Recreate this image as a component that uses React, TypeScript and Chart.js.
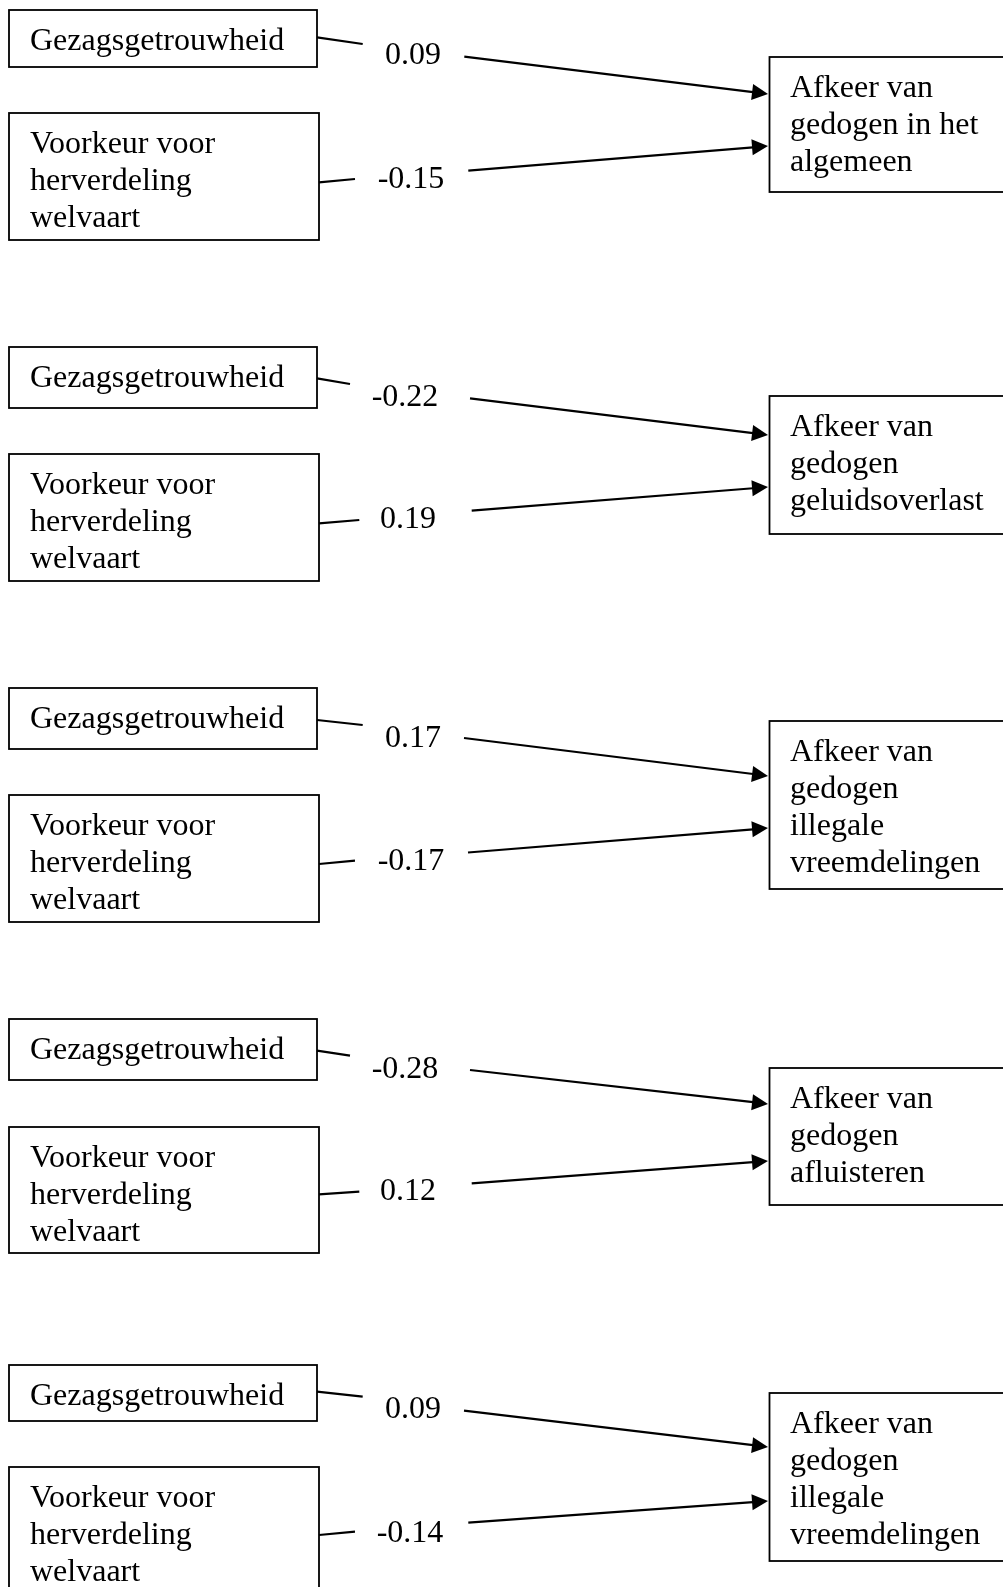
import React, { useEffect, useRef } from "react";
import { Chart, registerables } from "chart.js";

Chart.register(...registerables);

// ---------------- data ----------------
const predictorGezag: string[] = ["Gezagsgetrouwheid"];
const predictorHerverdeling: string[] = ["Voorkeur voor", "herverdeling", "welvaart"];
const outcomeLabels: string[][] = [
  ["Afkeer van", "gedogen in het", "algemeen"],
  ["Afkeer van", "gedogen", "geluidsoverlast"],
  ["Afkeer van", "gedogen", "illegale", "vreemdelingen"],
  ["Afkeer van", "gedogen", "afluisteren"],
  ["Afkeer van", "gedogen", "illegale", "vreemdelingen"],
];
const coefGezag: number[] = [0.09, -0.22, 0.17, -0.28, 0.09];
const coefHerverdeling: number[] = [-0.15, 0.19, -0.17, 0.12, -0.14];

// ---------------- layout (page pixel units) ----------------
const W = 1003;
const H = 1587;
const LEFT_BOX_X0 = 9;
const GEZAG_BOX_X1 = 317;
const HERV_BOX_X1 = 319;
const OUT_BOX_X0 = 769.5;
const OUT_BOX_X1 = 1012;
const ARROW_TIP_X = 768;
const LEFT_TEXT_X = 30;
const OUT_TEXT_X = 790;
const LINE_H = 37;
const FIRST_BASE = 40;

const gezagBoxTop = [10, 347, 688, 1019, 1365];
const gezagBoxBottom = [67, 408, 749, 1080, 1421];
const hervBoxTop = [113, 454, 795, 1127, 1467];
const hervBoxBottom = [240, 581, 922, 1253, 1620];
const outBoxTop = [57, 396, 721, 1068, 1393];
const outBoxBottom = [192, 534, 889, 1205, 1561];

const upShortY0 = [37.3, 378.3, 720, 1050.7, 1391.7];
const upShortX1 = [362.7, 350, 362.7, 350, 362.7];
const upShortY1 = [44, 384, 725, 1055.7, 1396.7];
const upLongX0 = [464.3, 470, 464, 470, 464];
const upLongY0 = [56.7, 398.3, 738, 1070, 1410.7];
const upTipY = [94, 435, 776, 1104, 1447];
const upLabelX = [385, 371.7, 385, 371.7, 385];
const upLabelBase = [64.3, 405.7, 746.7, 1078.3, 1418.3];

const loShortY0 = [182.3, 523.3, 864, 1194.3, 1535];
const loShortX1 = [355, 359.3, 355, 359.3, 355];
const loShortY1 = [179, 520, 860.7, 1191.7, 1531.7];
const loLongX0 = [468.3, 471.7, 468, 471.7, 468.3];
const loLongY0 = [170.7, 510.7, 852.5, 1183.3, 1522.7];
const loTipY = [146, 487, 828, 1161, 1501];
const loLabelX = [377.7, 380, 377.7, 380, 376.7];
const loLabelBase = [188, 528.3, 870, 1200, 1541.7];

const FONT = '32px "Liberation Serif", "Times New Roman", serif';

const pathPlugin = {
  id: "pathDiagram",
  beforeDraw(chart: any) {
    const { ctx } = chart;
    ctx.save();
    ctx.fillStyle = "#ffffff";
    ctx.fillRect(0, 0, chart.width, chart.height);
    ctx.restore();
  },
  afterDraw(chart: any) {
    const { ctx } = chart;
    const xs = chart.scales.x;
    const ys = chart.scales.y;
    const px = (v: number) => xs.getPixelForValue(v);
    const py = (v: number) => ys.getPixelForValue(v);

    const box = (x0: number, y0: number, x1: number, y1: number) => {
      ctx.save();
      ctx.strokeStyle = "#000";
      ctx.lineWidth = 1.8;
      ctx.strokeRect(px(x0), py(y0), px(x1) - px(x0), py(y1) - py(y0));
      ctx.restore();
    };
    const seg = (x0: number, y0: number, x1: number, y1: number) => {
      ctx.save();
      ctx.strokeStyle = "#000";
      ctx.lineWidth = 2.2;
      ctx.beginPath();
      ctx.moveTo(px(x0), py(y0));
      ctx.lineTo(px(x1), py(y1));
      ctx.stroke();
      ctx.restore();
    };
    const arrow = (x0: number, y0: number, x1: number, y1: number) => {
      const ax = px(x0), ay = py(y0), bx = px(x1), by = py(y1);
      const ang = Math.atan2(by - ay, bx - ax);
      const len = 16, half = 8;
      const baseX = bx - len * Math.cos(ang);
      const baseY = by - len * Math.sin(ang);
      ctx.save();
      ctx.strokeStyle = "#000";
      ctx.fillStyle = "#000";
      ctx.lineWidth = 2.2;
      ctx.beginPath();
      ctx.moveTo(ax, ay);
      ctx.lineTo(baseX + 1, baseY);
      ctx.stroke();
      ctx.beginPath();
      ctx.moveTo(bx, by);
      ctx.lineTo(baseX + half * Math.sin(ang), baseY - half * Math.cos(ang));
      ctx.lineTo(baseX - half * Math.sin(ang), baseY + half * Math.cos(ang));
      ctx.closePath();
      ctx.fill();
      ctx.restore();
    };
    const text = (s: string, x: number, y: number) => {
      ctx.save();
      ctx.fillStyle = "#000";
      ctx.font = FONT;
      ctx.textAlign = "left";
      ctx.textBaseline = "alphabetic";
      ctx.fillText(s, px(x), py(y));
      ctx.restore();
    };

    for (let i = 0; i < coefGezag.length; i++) {
      // predictor boxes
      box(LEFT_BOX_X0, gezagBoxTop[i], GEZAG_BOX_X1, gezagBoxBottom[i]);
      predictorGezag.forEach((l, k) => text(l, LEFT_TEXT_X, gezagBoxTop[i] + FIRST_BASE + k * LINE_H));
      box(LEFT_BOX_X0, hervBoxTop[i], HERV_BOX_X1, hervBoxBottom[i]);
      predictorHerverdeling.forEach((l, k) => text(l, LEFT_TEXT_X, hervBoxTop[i] + FIRST_BASE + k * LINE_H));
      // outcome box
      box(OUT_BOX_X0, outBoxTop[i], OUT_BOX_X1, outBoxBottom[i]);
      outcomeLabels[i].forEach((l, k) => text(l, OUT_TEXT_X, outBoxTop[i] + FIRST_BASE + k * LINE_H));
      // paths
      seg(GEZAG_BOX_X1, upShortY0[i], upShortX1[i], upShortY1[i]);
      text(coefGezag[i].toFixed(2), upLabelX[i], upLabelBase[i]);
      arrow(upLongX0[i], upLongY0[i], ARROW_TIP_X, upTipY[i]);
      seg(HERV_BOX_X1, loShortY0[i], loShortX1[i], loShortY1[i]);
      text(coefHerverdeling[i].toFixed(2), loLabelX[i], loLabelBase[i]);
      arrow(loLongX0[i], loLongY0[i], ARROW_TIP_X, loTipY[i]);
    }
  },
};

export default function App() {
  const canvasRef = useRef<HTMLCanvasElement | null>(null);

  useEffect(() => {
    if (!canvasRef.current) return;
    const chart = new Chart(canvasRef.current, {
      type: "scatter",
      data: {
        datasets: [
          {
            label: "coefficients",
            data: coefGezag.map((c, i) => ({ x: upLabelX[i], y: upLabelBase[i] })),
            pointRadius: 0,
            showLine: false,
          },
        ],
      },
      options: {
        responsive: false,
        animation: false,
        events: [],
        layout: { padding: 0 },
        plugins: { legend: { display: false }, tooltip: { enabled: false } },
        scales: {
          x: { type: "linear", min: 0, max: W, display: false },
          y: { type: "linear", min: 0, max: H, reverse: true, display: false },
        },
      },
      plugins: [pathPlugin],
    });
    return () => chart.destroy();
  }, []);

  return (
    <div style={{ position: "absolute", left: 0, top: 0, width: W, height: H, background: "#fff" }}>
      <canvas ref={canvasRef} width={W} height={H} style={{ display: "block" }} />
    </div>
  );
}
